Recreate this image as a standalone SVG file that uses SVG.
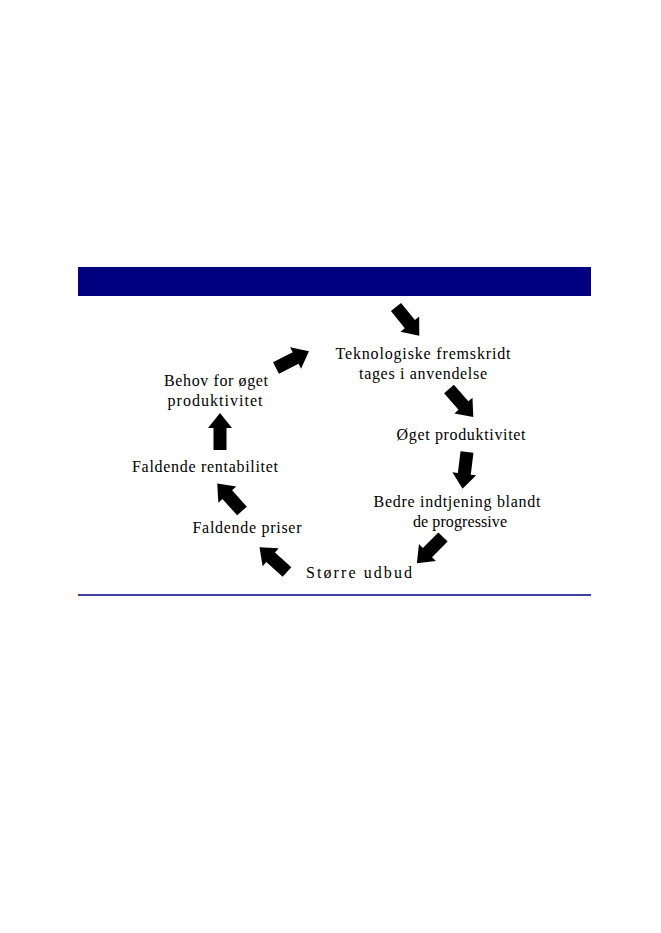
<svg xmlns="http://www.w3.org/2000/svg" xmlns:xlink="http://www.w3.org/1999/xlink" width="661" height="933" viewBox="0 0 661 933">
<style>
.t{font-family:"Liberation Serif","Times New Roman",serif;font-size:16px;fill:#000;text-anchor:middle}
.a{fill:#000}
</style>
<defs>
<path id="arr" d="M0,-6.5 L22,-6.5 L22,-12 L37,0 L22,12 L22,6.5 L0,6.5 Z"/>
</defs>
<rect width="661" height="933" fill="#fff"/>
<rect id="bar" x="78" y="267" width="513" height="29" fill="#000080"/>
<line x1="78" y1="595" x2="591" y2="595" stroke="#000080" stroke-width="1.5"/>
<g id="connectors">
<use class="a" xlink:href="#arr" transform="translate(396,307) rotate(51)"/>
<use class="a" xlink:href="#arr" transform="translate(449,389) rotate(49)"/>
<use class="a" xlink:href="#arr" transform="translate(467,452) rotate(97)"/>
<use class="a" xlink:href="#arr" transform="translate(443,537) rotate(135)"/>
<use class="a" xlink:href="#arr" transform="translate(287,572) rotate(-138)"/>
<use class="a" xlink:href="#arr" transform="translate(242,511) rotate(-132)"/>
<use class="a" xlink:href="#arr" transform="translate(220,450) rotate(-90)"/>
<use class="a" xlink:href="#arr" transform="translate(276,368) rotate(-27)"/>
</g>
<g id="n1"><text class="t" x="423" y="359" textLength="175">Teknologiske fremskridt</text><text class="t" x="423" y="379" textLength="128">tages i anvendelse</text></g>
<g id="n2"><text class="t" x="461" y="440" textLength="129">Øget produktivitet</text></g>
<g id="n3"><text class="t" x="457" y="507" textLength="167">Bedre indtjening blandt</text><text class="t" x="460" y="527" textLength="94">de progressive</text></g>
<g id="n4"><text class="t" x="359" y="578" textLength="106">Større udbud</text></g>
<g id="n5"><text class="t" x="247" y="533" textLength="109">Faldende priser</text></g>
<g id="n6"><text class="t" x="205" y="472" textLength="146">Faldende rentabilitet</text></g>
<g id="n7"><text class="t" x="216" y="386" textLength="104">Behov for øget</text><text class="t" x="215" y="406" textLength="95">produktivitet</text></g>
</svg>
